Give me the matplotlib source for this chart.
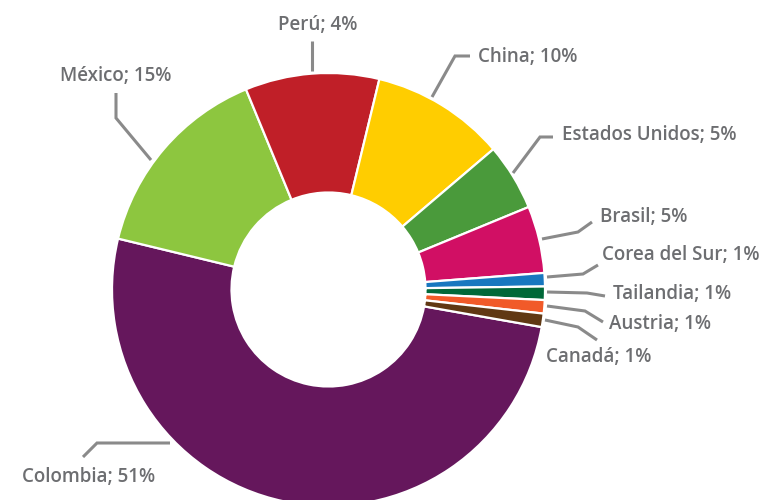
import matplotlib.pyplot as plt

# data (clockwise from Colombia)
paises = ["Colombia", "México", "Perú", "China", "Estados Unidos", "Brasil",
          "Corea del Sur", "Tailandia", "Austria", "Canadá"]
valores = [51, 15, 10, 10, 5, 5, 1, 1, 1, 1]
# percentages as printed on the labels (Perú says 4% in the original)
etiquetas_pct = [51, 15, 4, 10, 5, 5, 1, 1, 1, 1]
colores = ["#65175c", "#8dc63f", "#c01f28", "#ffcd00", "#4a9a3b", "#d10f64",
           "#1877bf", "#006838", "#f15a29", "#603813"]

W, H = 767, 500
CX, CY, R = 328.5, 289.5, 216.5   # centre / radius in image pixels
HOLE = 97.0

# label layout in image pixels: (x, y_center, ha), leader polyline
lab_pos = {
    "Colombia": (22, 477, "left"),
    "México": (60, 76, "left"),
    "Perú": (318, 25, "center"),
    "China": (478, 57, "left"),
    "Estados Unidos": (562, 135, "left"),
    "Brasil": (600, 217, "left"),
    "Corea del Sur": (602, 255, "left"),
    "Tailandia": (613, 294, "left"),
    "Austria": (609, 324, "left"),
    "Canadá": (546, 357, "left"),
}
leaders = {
    "Colombia": [(170, 443), (97, 443), (83, 457)],
    "México": [(116, 93), (116, 118), (151, 160)],
    "Perú": [(312, 41), (312, 71)],
    "China": [(470, 56), (455, 56), (432, 97)],
    "Estados Unidos": [(553, 137), (540, 137), (513, 173)],
    "Brasil": [(592, 222), (578, 232), (542, 239)],
    "Corea del Sur": [(598, 265), (583, 274), (547, 277)],
    "Tailandia": [(605, 296), (587, 293), (547, 292)],
    "Austria": [(603, 322), (585, 311), (547, 306)],
    "Canadá": [(597, 340), (578, 327), (545, 320)],
}

fig = plt.figure(figsize=(W / 100, H / 100), dpi=100)
ax = fig.add_axes([0, 0, 1, 1])

ax.pie(valores, colors=colores, startangle=-10, counterclock=False,
       center=(CX, H - CY), radius=R,
       wedgeprops=dict(width=R - HOLE, edgecolor="white", linewidth=1.6))

ax.set_xlim(0, W)
ax.set_ylim(0, H)
ax.set_aspect("equal")
ax.axis("off")

for p, pct in zip(paises, etiquetas_pct):
    x, y, ha = lab_pos[p]
    ax.text(x, H - y, f"{p}; {pct}%", ha=ha, va="center", fontsize=13.5,
            family="Open Sans", fontweight="semibold", color="#6d6e71")
    pts = leaders[p]
    ax.plot([q[0] for q in pts], [H - q[1] for q in pts], color="#8a8a8a",
            lw=2.2, solid_capstyle="butt", solid_joinstyle="miter")

fig.savefig("out.png", dpi=100)
